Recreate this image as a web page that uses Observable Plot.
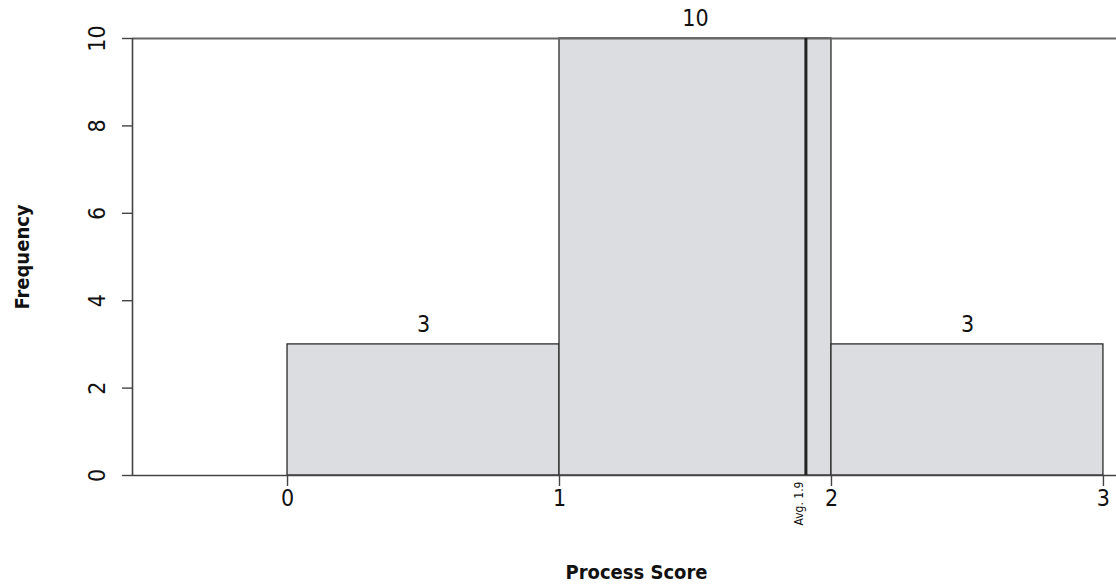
<!DOCTYPE html>
<html>
<head>
<meta charset="utf-8">
<script src="https://cdn.jsdelivr.net/npm/d3@7"></script>
<script src="https://cdn.jsdelivr.net/npm/@observablehq/plot@0.6"></script>
<style>
  html, body { margin: 0; padding: 0; background: #fff; }
  svg { display: block; }
</style>
</head>
<body>
<div id="chart"></div>
<script>
// Histogram bins (Process Score) and their counts
const binStarts = [0, 1, 2];
const binEnds = [1, 2, 3];
const counts = [3, 10, 3];
const meanScore = 1.906;
const meanLabel = "Avg. 1.9";
const xTicks = [0, 1, 2, 3];
const yTicks = [0, 2, 4, 6, 8, 10];
const xTitle = "Process Score";
const yTitle = "Frequency";

const bins = binStarts.map((s, i) => ({x1: s, x2: binEnds[i], count: counts[i]}));

const FONT = "'Liberation Sans Narrow', 'DejaVu Sans Condensed', 'Roboto Condensed', Roboto, sans-serif";

const chart = Plot.plot({
  width: 1116,
  height: 588,
  marginLeft: 132,
  marginRight: 0,
  marginTop: 38,
  marginBottom: 113,
  style: {fontFamily: FONT, fontStretch: "condensed", background: "#fff", color: "#111"},
  x: {domain: [-0.57, 3.048], axis: null},
  y: {domain: [0, 10], axis: null},
  marks: [
    Plot.rectY(bins, {x1: "x1", x2: "x2", y: "count", fill: "#dcdde0", stroke: "#2a2a2a", strokeWidth: 1.3}),
    Plot.ruleY([0], {stroke: "#444", strokeWidth: 1.6}),
    Plot.ruleY([10], {stroke: "#666", strokeWidth: 2}),
    Plot.ruleX([-0.57], {y1: 0, y2: 10, stroke: "#444", strokeWidth: 1.6}),
    Plot.axisY({ticks: yTicks, tickSize: 10, tickFormat: () => "", label: null, stroke: "#444", strokeWidth: 1.4}),
    Plot.axisX({ticks: xTicks, tickSize: 11, tickFormat: () => "", label: null, stroke: "#444", strokeWidth: 1.4}),
    Plot.ruleX([meanScore], {y1: 0, y2: 10, stroke: "#222", strokeWidth: 3}),
    Plot.text(yTicks, {y: d => d, text: d => String(d), frameAnchor: "left", textAnchor: "middle", dx: -35, rotate: -90, fontSize: 23, fontWeight: 300, fill: "#111"}),
    Plot.text(xTicks, {x: d => d, text: d => String(d), frameAnchor: "bottom", dy: 30, fontSize: 23, fontWeight: 300, fill: "#111"}),
    Plot.text(bins, {x: d => (d.x1 + d.x2) / 2, y: "count", text: d => String(d.count), dy: -20, fontSize: 23, fontWeight: 300, fill: "#111"}),
    Plot.text([meanScore], {x: d => d, text: () => meanLabel, frameAnchor: "bottom", rotate: -90, textAnchor: "end", dy: 6, dx: -3, fontSize: 12, fill: "#111"}),
    Plot.text([xTitle], {text: d => d, frameAnchor: "bottom", dx: 12, dy: 103, fontSize: 20, fontWeight: "bold", fill: "#111"}),
    Plot.text([yTitle], {text: d => d, frameAnchor: "left", textAnchor: "middle", dx: -110, rotate: -90, fontSize: 20, fontWeight: "bold", fill: "#111"})
  ]
});
document.getElementById("chart").appendChild(chart);
</script>
</body>
</html>
